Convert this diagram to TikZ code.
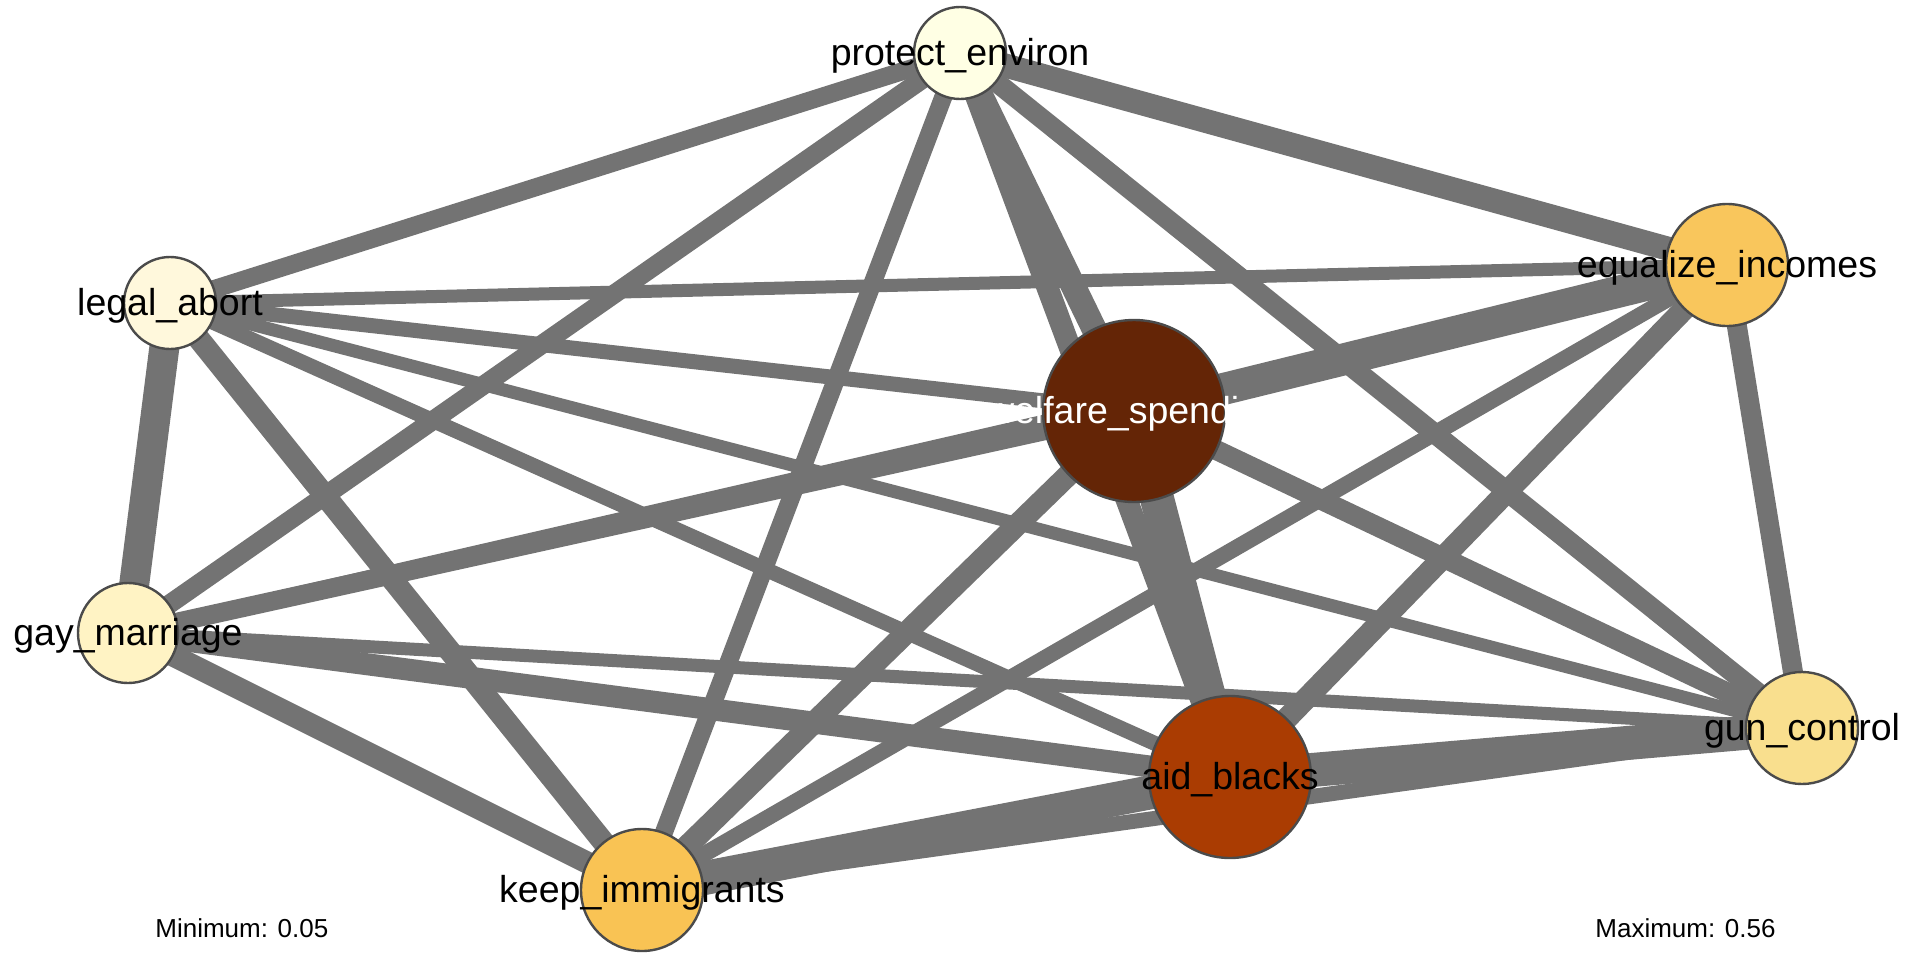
\documentclass[tikz,border=0pt]{standalone}
\usepackage{fontspec}
\setmainfont{Liberation Sans}
\pgfdeclarelayer{bg}
\pgfsetlayers{bg,main}
\definecolor{edgegray}{RGB}{115,115,115}
\definecolor{bordergray}{RGB}{75,75,75}
\definecolor{cP}{RGB}{255,255,228}
\definecolor{cL}{RGB}{255,248,220}
\definecolor{cG}{RGB}{255,243,196}
\definecolor{cK}{RGB}{249,195,84}
\definecolor{cA}{RGB}{170,60,2}
\definecolor{cW}{RGB}{100,37,6}
\definecolor{cE}{RGB}{249,198,92}
\definecolor{cGC}{RGB}{249,223,142}
\tikzset{
  vtx/.style={circle, draw=bordergray, line width=1.2pt, inner sep=0pt, outer sep=0pt},
  lbl/.style={anchor=base, inner sep=0pt, font=\fontsize{18.75}{22}\selectfont, text=black},
  edg/.style={draw=edgegray, line cap=butt},
  legend/.style={anchor=base west, inner sep=0pt, font=\fontsize{13}{15}\selectfont, text=black}
}
\begin{document}
\begin{tikzpicture}[x=0.5pt,y=-0.5pt]
\useasboundingbox (0,0) rectangle (1920,953);
% nodes
\node[vtx, fill=cP,  minimum size=46pt] (P)  at (960,53)   {};
\node[lbl] (Pl) at ([yshift=-6pt]P.center) {protect\_environ};
\node[vtx, fill=cL,  minimum size=46pt] (L)  at (170,303)  {};
\node[lbl] (Ll) at ([yshift=-6pt]L.center) {legal\_abort};
\node[vtx, fill=cG,  minimum size=50pt] (G)  at (128,633)  {};
\node[lbl] (Gl) at ([yshift=-6pt]G.center) {gay\_marriage};
\node[vtx, fill=cK,  minimum size=61pt] (K)  at (642,890)  {};
\node[lbl] (Kl) at ([yshift=-6pt]K.center) {keep\_immigrants};
\node[vtx, fill=cW,  minimum size=91pt] (W)  at (1134,411) {};
\node[lbl, text=white] (Wl) at ([yshift=-6pt]W.center) {welfare\_spending};
\node[vtx, fill=cA,  minimum size=81pt] (A)  at (1230,777) {};
\node[lbl] (Al) at ([yshift=-6pt]A.center) {aid\_blacks};
\node[vtx, fill=cE,  minimum size=61pt] (E)  at (1727,265) {};
\node[lbl] (El) at ([yshift=-6pt]E.center) {equalize\_incomes};
\node[vtx, fill=cGC, minimum size=56pt] (GC) at (1802,728) {};
\node[lbl] (GCl) at ([yshift=-6pt]GC.center) {gun\_control};
% legend
\node[legend] (minl) at (155,937) {Minimum: 0.05};
\node[legend] (maxl) at (1595,937) {Maximum: 0.56};
% edges
\begin{pgfonlayer}{bg}
\draw[edg, line width=6.5pt]  (L.center) -- (E.center);
\draw[edg, line width=6.5pt]  (L.center) -- (GC.center);
\draw[edg, line width=6.5pt]  (G.center) -- (GC.center);
\draw[edg, line width=7.5pt]  (L.center) -- (A.center);
\draw[edg, line width=7.5pt]  (L.center) -- (W.center);
\draw[edg, line width=7.5pt]  (G.center) -- (E.center);
\draw[edg, line width=7.5pt]  (K.center) -- (GC.center);
\draw[edg, line width=8pt]    (K.center) -- (E.center);
\draw[edg, line width=9pt]    (P.center) -- (L.center);
\draw[edg, line width=9.5pt]  (P.center) -- (G.center);
\draw[edg, line width=9pt]    (P.center) -- (K.center);
\draw[edg, line width=11pt]   (P.center) -- (A.center);
\draw[edg, line width=10pt]   (P.center) -- (GC.center);
\draw[edg, line width=11pt]   (L.center) -- (K.center);
\draw[edg, line width=15pt]   (L.center) -- (G.center);
\draw[edg, line width=9.5pt]  (G.center) -- (W.center);
\draw[edg, line width=11pt]   (G.center) -- (K.center);
\draw[edg, line width=11pt]   (G.center) -- (A.center);
\draw[edg, line width=11pt]   (W.center) -- (K.center);
\draw[edg, line width=10pt]   (W.center) -- (GC.center);
\draw[edg, line width=11pt]   (A.center) -- (E.center);
\draw[edg, line width=10pt]   (E.center) -- (GC.center);
\draw[edg, line width=12.5pt] (P.center) -- (W.center);
\draw[edg, line width=12pt]   (P.center) -- (E.center);
\draw[edg, line width=16pt]   (W.center) -- (E.center);
\draw[edg, line width=17pt]   (W.center) -- (A.center);
\draw[edg, line width=17pt]   (A.center) -- (GC.center);
\draw[edg, line width=17pt]   (K.center) -- (A.center);
\end{pgfonlayer}
\end{tikzpicture}
\end{document}
